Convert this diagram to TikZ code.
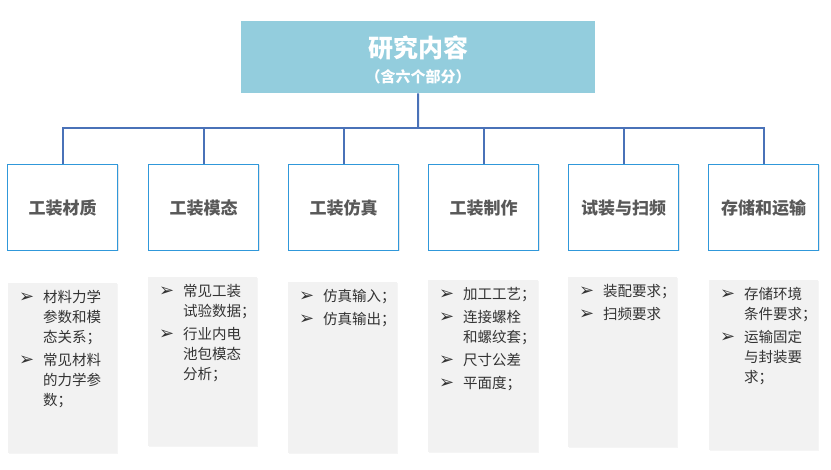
\documentclass[tikz,border=0pt]{standalone}
\usepackage{fontspec}
\setmainfont{Noto Sans CJK SC}
\newfontfamily\symfont{DejaVu Sans}
\usetikzlibrary{positioning,shadows}

\definecolor{titlefill}{HTML}{93CDDD}
\definecolor{linkblue}{HTML}{4A72B8}
\definecolor{boxblue}{HTML}{3098DA}
\definecolor{labelgray}{HTML}{595959}
\definecolor{detailfill}{HTML}{F2F2F2}

\newcommand{\bul}{{\symfont\fontsize{18}{20}\selectfont\raisebox{-0.5pt}{➢}}}

\begin{document}
\begin{tikzpicture}[x=1pt, y=-1pt,
    titlebox/.style={fill=titlefill, minimum width=354pt, minimum height=72pt,
      anchor=north west, inner sep=0pt},
    catbox/.style={draw=boxblue, line width=1.4pt, fill=white, minimum width=110pt,
      minimum height=86pt, anchor=north west, inner sep=0pt, text=labelgray,
      font=\bfseries\fontsize{17}{20}\selectfont,
      drop shadow={opacity=0.2, shadow xshift=0.8pt, shadow yshift=-0.8pt}},
    detail/.style={fill=detailfill, minimum width=109pt, anchor=north west, inner sep=0pt,
      drop shadow={opacity=0.08, shadow xshift=1pt, shadow yshift=-1pt}},
    detailtext/.style={anchor=north west, inner sep=0pt, text=black!80,
      font=\fontsize{14.5}{20}\selectfont},
    link/.style={draw=linkblue, line width=2pt}]
  \useasboundingbox (0,0) rectangle (831,470);

  % Title
  \node[titlebox] (top) at (241,21) {};
  \node[text=white, font=\bfseries\fontsize{25}{28}\selectfont] (title) at (418,48) {研究内容};
  \node[text=white, font=\bfseries\fontsize{15}{18}\selectfont] (subtitle) at (418,77) {（含六个部分）};

  % Six parts
  \node[catbox] (c1) at (7,164) {工装材质};
  \node[catbox] (c2) at (148,164) {工装模态};
  \node[catbox] (c3) at (288,164) {工装仿真};
  \node[catbox] (c4) at (428,164) {工装制作};
  \node[catbox] (c5) at (568,164) {试装与扫频};
  \node[catbox] (c6) at (708,164) {存储和运输};

  % Connectors
  \coordinate (bus) at (418,128);
  \draw[link] (top.south) -- (bus);
  \draw[link] (c1.north) |- (c6.north |- bus) -- (c6.north);
  \draw[link] (c2.north) -- (c2.north |- bus);
  \draw[link] (c3.north) -- (c3.north |- bus);
  \draw[link] (c4.north) -- (c4.north |- bus);
  \draw[link] (c5.north) -- (c5.north |- bus);

  % Details
  \node[detail, minimum height=170pt] (d1) at (8,283) {};
  \node[detail, minimum height=169pt] (d2) at (148,277) {};
  \node[detail, minimum height=171pt] (d3) at (288,282) {};
  \node[detail, minimum height=172pt, minimum width=110pt] (d4) at (428,280) {};
  \node[detail, minimum height=170pt] (d5) at (568,277) {};
  \node[detail, minimum height=170pt] (d6) at (709,280) {};

  \node[detailtext] (t1) at ([xshift=11pt, yshift=-5pt]d1.north west) {%
    \begin{tabular}{@{}p{24pt}@{}l@{}}
      \bul & 材料力学\\ & 参数和模\\ & 态关系；\\[3pt]
      \bul & 常见材料\\ & 的力学参\\ & 数；
    \end{tabular}};
  \node[detailtext] (t2) at ([xshift=11pt, yshift=-5pt]d2.north west) {%
    \begin{tabular}{@{}p{24pt}@{}l@{}}
      \bul & 常见工装\\ & 试验数据；\\[3pt]
      \bul & 行业内电\\ & 池包模态\\ & 分析；
    \end{tabular}};
  \node[detailtext] (t3) at ([xshift=11pt, yshift=-5pt]d3.north west) {%
    \begin{tabular}{@{}p{24pt}@{}l@{}}
      \bul & 仿真输入；\\[3pt]
      \bul & 仿真输出；
    \end{tabular}};
  \node[detailtext] (t4) at ([xshift=11pt, yshift=-5pt]d4.north west) {%
    \begin{tabular}{@{}p{24pt}@{}l@{}}
      \bul & 加工工艺；\\[3pt]
      \bul & 连接螺栓\\ & 和螺纹套；\\[3pt]
      \bul & 尺寸公差\\[3pt]
      \bul & 平面度；
    \end{tabular}};
  \node[detailtext] (t5) at ([xshift=11pt, yshift=-5pt]d5.north west) {%
    \begin{tabular}{@{}p{24pt}@{}l@{}}
      \bul & 装配要求；\\[3pt]
      \bul & 扫频要求
    \end{tabular}};
  \node[detailtext] (t6) at ([xshift=11pt, yshift=-5pt]d6.north west) {%
    \begin{tabular}{@{}p{24pt}@{}l@{}}
      \bul & 存储环境\\ & 条件要求；\\[3pt]
      \bul & 运输固定\\ & 与封装要\\ & 求；
    \end{tabular}};
\end{tikzpicture}
\end{document}
